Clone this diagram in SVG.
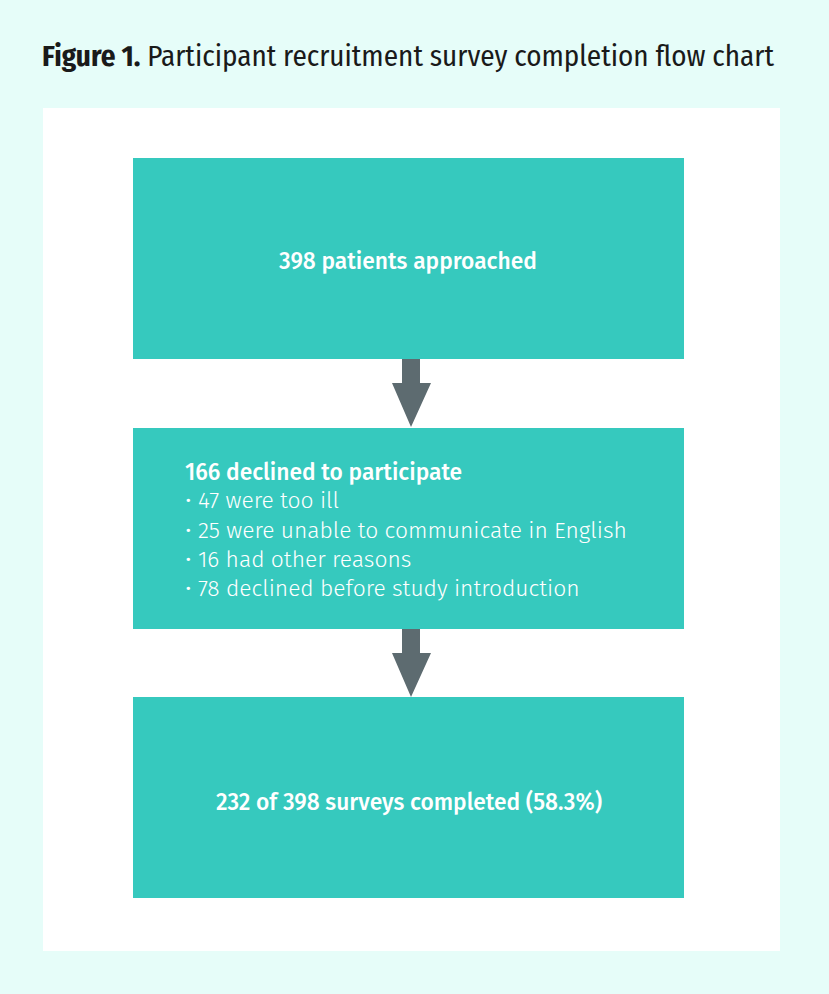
<svg xmlns="http://www.w3.org/2000/svg" width="829" height="994" viewBox="0 0 829 994">
<style>
.box{fill:#36c9be}
.t{font-family:"Fira Sans","Open Sans","Noto Sans",sans-serif;fill:#ffffff;font-size:22.8px;font-weight:300}
.b{font-weight:500}
.arrow{fill:#5d6b70}
</style>
<rect x="0" y="0" width="829" height="994" fill="#e6fdf9"/>
<rect x="43" y="108" width="737" height="843" fill="#ffffff"/>
<text x="42" y="66" font-family="'Fira Sans Condensed','Fira Sans','Open Sans',sans-serif" font-size="29" fill="#1a1a1a" textLength="732" lengthAdjust="spacingAndGlyphs"><tspan font-weight="700">Figure 1.</tspan> Participant recruitment survey completion flow chart</text>
<g id="connectors">
<path class="arrow" d="M402 359 H420 V383 H431 L411 427 L392 383 H402 Z"/>
<path class="arrow" d="M402 629 H420 V653 H431 L411 697 L392 653 H402 Z"/>
</g>
<g id="node1">
<rect class="box" x="133" y="158" width="551" height="201"/>
<text class="t b" x="408" y="269" text-anchor="middle">398 patients approached</text>
</g>
<g id="node2">
<rect class="box" x="133" y="428" width="551" height="201"/>
<text class="t b" x="185" y="480">166 declined to participate</text>
<text class="t" x="185" y="508">• 47 were too ill</text>
<text class="t" x="185" y="538">• 25 were unable to communicate in English</text>
<text class="t" x="185" y="567">• 16 had other reasons</text>
<text class="t" x="185" y="596">• 78 declined before study introduction</text>
</g>
<g id="node3">
<rect class="box" x="133" y="697" width="551" height="201"/>
<text class="t b" x="409" y="810" text-anchor="middle">232 of 398 surveys completed (58.3%)</text>
</g>
</svg>
